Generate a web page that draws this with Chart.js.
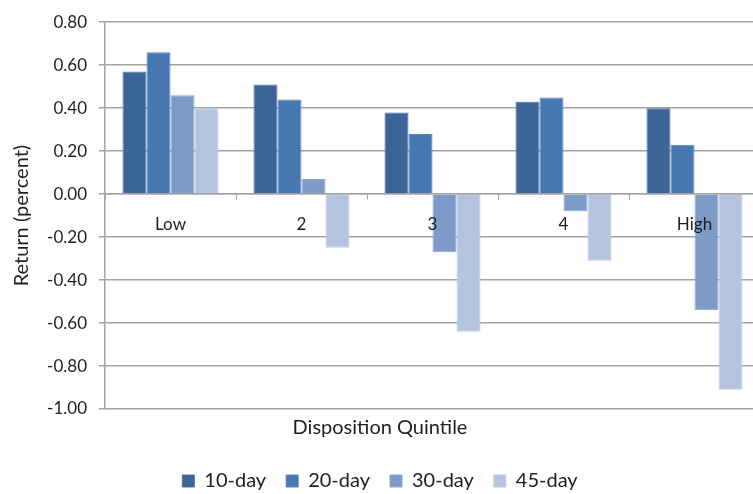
<!DOCTYPE html>
<html>
<head>
<meta charset="utf-8">
<script src="https://cdn.jsdelivr.net/npm/chart.js@4/dist/chart.umd.min.js"></script>
<style>
  html, body { margin: 0; padding: 0; background: #fff; overflow: hidden; width: 753px; height: 494px; }
  #wrap { position: relative; width: 760px; height: 501px; }
</style>
</head>
<body>
<div id="wrap"><canvas id="c" width="760" height="501"></canvas></div>
<script>
// Disposition quintiles and subsequent returns (percent) by holding horizon
const quintiles = ['Low', '2', '3', '4', 'High'];
const ret10 = [0.57, 0.51, 0.38, 0.43, 0.40];
const ret20 = [0.66, 0.44, 0.28, 0.45, 0.23];
const ret30 = [0.46, 0.07, -0.27, -0.08, -0.54];
const ret45 = [0.40, -0.25, -0.64, -0.31, -0.91];
const seriesNames = ['10-day', '20-day', '30-day', '45-day'];

const fills   = ['#3B6596', '#4878B1', '#7E9BC8', '#B4C3DE'];
const strokes = ['#4A71A1', '#5784BA', '#8AA5CF', '#BECBE3'];
const FONT = 'Lato, "Open Sans", sans-serif';
const TEXT = '#1e1e1e';
const GRID = '#A3A3A3';

const seriesValues = [ret10, ret20, ret30, ret45];

new Chart(document.getElementById('c'), {
  type: 'bar',
  data: {
    labels: quintiles,
    datasets: seriesValues.map((vals, i) => ({
      label: seriesNames[i],
      data: vals,
      backgroundColor: fills[i],
      borderColor: strokes[i],
      borderWidth: 1,
      categoryPercentage: 0.733,
      barPercentage: 1.0
    }))
  },
  options: {
    responsive: false,
    animation: false,
    layout: { padding: { top: 17, left: 0, right: 0, bottom: 0 } },
    scales: {
      x: {
        position: { y: 0 },
        grid: {
          offset: true,
          drawOnChartArea: false,
          drawTicks: true,
          tickLength: 5,
          color: GRID,
          lineWidth: 1
        },
        border: { display: true, color: GRID, width: 1.5 },
        ticks: {
          z: 1,
          color: TEXT,
          padding: 15,
          font: { family: FONT, size: 17 }
        }
      },
      y: {
        min: -1,
        max: 0.8,
        afterFit(scale) { scale.width = 105; },
        ticks: {
          stepSize: 0.2,
          color: TEXT,
          padding: 12,
          font: { family: FONT, size: 17 },
          callback: v => Number(v).toFixed(2)
        },
        grid: {
          color: GRID,
          lineWidth: 1.5,
          tickLength: 6
        },
        border: { display: true, color: GRID, width: 1.5 },
        title: {
          display: true,
          text: 'Return (percent)',
          color: TEXT,
          padding: { top: 10, bottom: 0 },
          font: { family: FONT, size: 20 }
        }
      }
    },
    plugins: {
      tooltip: { enabled: false },
      title: {
        display: true,
        position: 'bottom',
        weight: 100,
        text: 'Disposition Quintile',
        color: TEXT,
        padding: { top: 7, bottom: 11 },
        font: { family: FONT, size: 20, weight: 'normal' }
      },
      legend: {
        position: 'bottom',
        labels: {
          color: TEXT,
          boxWidth: 12,
          boxHeight: 12,
          padding: 20,
          font: { family: FONT, size: 20 }
        }
      }
    }
  }
});
</script>
</body>
</html>
